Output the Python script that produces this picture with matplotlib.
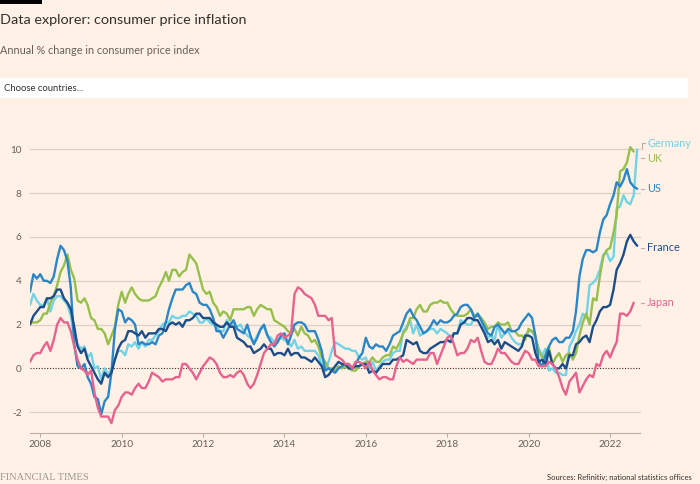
import numpy as np
import pandas as pd
import matplotlib
matplotlib.use('Agg')
import matplotlib.pyplot as plt
import matplotlib.dates as mdates
from matplotlib.patches import Rectangle
from matplotlib.transforms import blended_transform_factory

plt.rcParams['font.family'] = ['Lato', 'DejaVu Sans']

# ------------------------------------------------------------------------- #
# Annual % change in CPI, monthly, from Oct 2007
us = [3.5, 4.3, 4.1,
      4.3, 4.0, 4.0, 3.9, 4.2, 5.0, 5.6, 5.4, 4.9, 3.7, 1.1, 0.1,
      0.0, 0.2, -0.4, -0.7, -1.3, -1.4, -2.1, -1.5, -1.3, -0.2, 1.8, 2.7,
      2.6, 2.1, 2.3, 2.2, 2.0, 1.1, 1.2, 1.1, 1.1, 1.2, 1.1, 1.5,
      1.6, 2.1, 2.7, 3.2, 3.6, 3.6, 3.6, 3.8, 3.9, 3.5, 3.4, 3.0,
      2.9, 2.9, 2.7, 2.3, 1.7, 1.7, 1.4, 1.7, 2.0, 2.2, 1.8, 1.7,
      1.6, 2.0, 1.5, 1.1, 1.4, 1.8, 2.0, 1.5, 1.2, 1.0, 1.2, 1.5,
      1.6, 1.1, 1.5, 2.0, 2.1, 2.1, 2.0, 1.7, 1.7, 1.7, 1.3, 0.8,
      -0.1, 0.0, -0.1, -0.2, 0.0, 0.1, 0.2, 0.2, 0.0, 0.2, 0.5, 0.7,
      1.4, 1.0, 0.9, 1.1, 1.0, 1.0, 0.8, 1.1, 1.5, 1.6, 1.7, 2.1,
      2.5, 2.7, 2.4, 2.2, 1.9, 1.6, 1.7, 1.9, 2.2, 2.0, 2.2, 2.1,
      2.1, 2.2, 2.4, 2.5, 2.8, 2.9, 2.9, 2.7, 2.3, 2.5, 2.2, 1.9,
      1.6, 1.5, 1.9, 2.0, 1.8, 1.6, 1.8, 1.7, 1.7, 1.8, 2.1, 2.3,
      2.5, 2.3, 1.5, 0.3, 0.1, 0.6, 1.0, 1.3, 1.4, 1.2, 1.2, 1.4,
      1.4, 1.7, 2.6, 4.2, 5.0, 5.4, 5.4, 5.3, 5.4, 6.2, 6.8, 7.0,
      7.5, 7.9, 8.5, 8.3, 8.6, 9.1, 8.5, 8.3, 8.2]

uk = [2.1, 2.1, 2.1,
      2.2, 2.5, 2.5, 3.0, 3.3, 3.8, 4.4, 4.7, 5.2, 4.5, 4.1, 3.1,
      3.0, 3.2, 2.9, 2.3, 2.2, 1.8, 1.8, 1.6, 1.1, 1.5, 1.9, 2.9,
      3.5, 3.0, 3.4, 3.7, 3.4, 3.2, 3.1, 3.1, 3.1, 3.2, 3.3, 3.7,
      4.0, 4.4, 4.0, 4.5, 4.5, 4.2, 4.4, 4.5, 5.2, 5.0, 4.8, 4.2,
      3.6, 3.4, 3.5, 3.0, 2.8, 2.4, 2.6, 2.5, 2.2, 2.7, 2.7, 2.7,
      2.7, 2.8, 2.8, 2.4, 2.7, 2.9, 2.8, 2.7, 2.7, 2.2, 2.1, 2.0,
      1.9, 1.7, 1.6, 1.8, 1.5, 1.9, 1.6, 1.5, 1.2, 1.3, 1.0, 0.5,
      0.3, 0.0, 0.0, -0.1, 0.1, 0.0, 0.1, 0.0, -0.1, -0.1, 0.1, 0.2,
      0.3, 0.3, 0.5, 0.3, 0.3, 0.5, 0.6, 0.6, 1.0, 0.9, 1.2, 1.6,
      1.8, 2.3, 2.3, 2.7, 2.9, 2.6, 2.6, 2.9, 3.0, 3.0, 3.1, 3.0,
      3.0, 2.7, 2.5, 2.4, 2.4, 2.4, 2.5, 2.7, 2.4, 2.4, 2.3, 2.1,
      1.8, 1.9, 1.9, 2.1, 2.0, 2.0, 2.1, 1.7, 1.7, 1.5, 1.5, 1.3,
      1.8, 1.7, 1.5, 0.8, 0.5, 0.6, 1.0, 0.2, 0.5, 0.7, 0.3, 0.6,
      0.7, 0.4, 0.7, 1.5, 2.1, 2.5, 2.0, 3.2, 3.1, 4.2, 5.1, 5.4,
      5.5, 6.2, 7.0, 9.0, 9.1, 9.4, 10.1, 9.9]

germany = [2.9, 3.4, 3.1,
           2.9, 2.9, 3.2, 2.6, 3.1, 3.3, 3.3, 3.1, 2.9, 2.4, 1.4, 1.1,
           0.9, 1.0, 0.5, 0.7, 0.0, 0.1, -0.5, 0.0, -0.3, 0.0, 0.4, 0.8,
           0.8, 0.6, 1.1, 1.0, 1.2, 0.9, 1.2, 1.0, 1.3, 1.3, 1.5, 1.7,
           2.0, 2.1, 2.1, 2.4, 2.3, 2.3, 2.4, 2.4, 2.6, 2.5, 2.4, 2.1,
           2.1, 2.3, 2.1, 2.0, 1.9, 1.7, 1.7, 2.2, 2.0, 2.0, 1.9, 2.0,
           1.7, 1.5, 1.4, 1.2, 1.5, 1.8, 1.9, 1.5, 1.4, 1.2, 1.3, 1.4,
           1.3, 1.2, 1.0, 1.3, 0.9, 1.0, 0.8, 0.8, 0.8, 0.8, 0.6, 0.2,
           -0.1, 0.3, 0.8, 1.2, 1.1, 1.0, 0.9, 0.9, 0.8, 0.8, 0.5, 0.4,
           0.5, 0.0, 0.3, -0.1, 0.1, 0.3, 0.4, 0.4, 0.7, 0.8, 0.8, 1.7,
           1.9, 2.2, 1.6, 2.0, 1.5, 1.6, 1.7, 1.8, 1.8, 1.6, 1.8, 1.7,
           1.6, 1.4, 1.6, 1.6, 2.2, 2.1, 2.0, 2.0, 2.3, 2.5, 2.3, 1.7,
           1.4, 1.5, 1.3, 2.0, 1.4, 1.6, 1.7, 1.4, 1.2, 1.1, 1.1, 1.5,
           1.7, 1.7, 1.4, 0.9, 0.6, 0.9, -0.1, 0.0, -0.2, -0.2, -0.3, -0.3,
           1.0, 1.3, 1.7, 2.0, 2.5, 2.3, 3.8, 3.9, 4.1, 4.5, 5.2, 5.3,
           4.9, 5.1, 7.3, 7.4, 7.9, 7.6, 7.5, 7.9, 10.0]

france = [2.0, 2.4, 2.6,
          2.8, 2.8, 3.2, 3.2, 3.3, 3.6, 3.6, 3.2, 3.0, 2.7, 1.9, 1.0,
          0.7, 0.9, 0.4, 0.1, -0.2, -0.5, -0.7, -0.2, -0.4, -0.2, 0.4, 0.9,
          1.2, 1.3, 1.7, 1.7, 1.6, 1.5, 1.7, 1.4, 1.6, 1.6, 1.6, 1.8,
          1.8, 1.7, 2.0, 2.1, 2.0, 2.1, 1.9, 2.2, 2.2, 2.3, 2.5, 2.5,
          2.3, 2.3, 2.3, 2.1, 2.0, 1.9, 1.9, 2.1, 1.9, 1.9, 1.4, 1.3,
          1.2, 1.0, 1.0, 0.7, 0.8, 0.9, 1.1, 0.9, 0.9, 0.6, 0.7, 0.7,
          0.6, 0.9, 0.6, 0.7, 0.7, 0.5, 0.5, 0.4, 0.3, 0.5, 0.3, 0.1,
          -0.4, -0.3, -0.1, 0.1, 0.3, 0.2, 0.2, 0.0, 0.0, 0.1, 0.1, 0.2,
          0.2, -0.2, -0.1, -0.2, 0.0, 0.2, 0.2, 0.2, 0.4, 0.4, 0.5, 0.6,
          1.3, 1.2, 1.1, 1.2, 0.8, 0.7, 0.7, 0.9, 1.0, 1.1, 1.2, 1.2,
          1.3, 1.2, 1.6, 1.6, 2.0, 2.1, 2.3, 2.3, 2.2, 2.2, 1.9, 1.6,
          1.2, 1.3, 1.1, 1.3, 0.9, 1.2, 1.1, 1.0, 0.9, 0.8, 1.0, 1.5,
          1.5, 1.4, 0.7, 0.3, 0.4, 0.2, 0.8, 0.2, 0.0, 0.0, 0.2, 0.0,
          0.6, 0.6, 1.1, 1.2, 1.4, 1.5, 1.2, 1.9, 2.2, 2.6, 2.8, 2.8,
          2.9, 3.6, 4.5, 4.8, 5.2, 5.8, 6.1, 5.8, 5.6]

japan = [0.3, 0.6, 0.7,
         0.7, 1.0, 1.2, 0.8, 1.3, 2.0, 2.3, 2.1, 2.1, 1.7, 1.0, 0.4,
         0.0, -0.1, -0.3, -0.1, -1.1, -1.8, -2.2, -2.2, -2.2, -2.5, -1.9, -1.7,
         -1.3, -1.1, -1.1, -1.2, -0.9, -0.7, -0.9, -0.9, -0.6, -0.2, -0.3, -0.4,
         -0.6, -0.5, -0.5, -0.5, -0.4, -0.4, 0.2, 0.2, 0.0, -0.2, -0.5, -0.2,
         0.1, 0.3, 0.5, 0.4, 0.2, -0.2, -0.4, -0.4, -0.3, -0.4, -0.2, -0.1,
         -0.3, -0.7, -0.9, -0.7, -0.3, 0.2, 0.7, 0.9, 1.1, 1.1, 1.5, 1.6,
         1.4, 1.5, 1.6, 3.4, 3.7, 3.6, 3.4, 3.3, 3.2, 2.9, 2.4, 2.4,
         2.4, 2.2, 2.3, 0.6, 0.5, 0.4, 0.2, 0.2, 0.0, 0.3, 0.3, 0.2,
         0.0, 0.3, -0.1, -0.3, -0.5, -0.4, -0.4, -0.5, -0.5, 0.1, 0.5, 0.3,
         0.4, 0.3, 0.2, 0.4, 0.4, 0.4, 0.4, 0.7, 0.7, 0.2, 0.6, 1.0,
         1.4, 1.5, 1.1, 0.6, 0.7, 0.7, 0.9, 1.3, 1.2, 1.4, 0.8, 0.3,
         0.2, 0.2, 0.5, 0.9, 0.7, 0.7, 0.5, 0.3, 0.2, 0.2, 0.5, 0.8,
         0.7, 0.4, 0.4, 0.1, 0.1, 0.1, 0.3, 0.2, 0.0, -0.4, -0.9, -1.2,
         -0.6, -0.4, -0.2, -1.1, -0.8, -0.5, -0.3, -0.4, 0.2, 0.1, 0.6, 0.8,
         0.5, 0.9, 1.2, 2.5, 2.5, 2.4, 2.6, 3.0]

countries = ['Germany', 'UK', 'US', 'France', 'Japan']
series = [germany, uk, us, france, japan]
colours = ['#72d2e6', '#96bf4b', '#2b86c7', '#1c4d89', '#e6638f']
label_y = [10.25, 9.6, 8.2, 5.5, 3.0]   # where the end labels sit

y_ticks = [-2, 0, 2, 4, 6, 8, 10]
y_ticklabels = ['-2', '0', '2', '4', '6', '8', '10']

dates = pd.date_range('2007-10-01', periods=len(us), freq='MS')

# ------------------------------------------------------------------------- #
W, H = 700, 484
bg = '#fff1e5'
txt = '#33302e'
grey = '#66605c'

fig = plt.figure(figsize=(W / 100, H / 100), dpi=100, facecolor=bg)

def fx(px):
    return px / W

def fy(py):
    return 1 - py / H

# header
fig.patches.append(Rectangle((0, fy(3.5)), fx(42), 3.5 / H, transform=fig.transFigure,
                             facecolor='black', edgecolor='none'))
fig.text(fx(0), fy(20), 'Data explorer: consumer price inflation', fontsize=10.4,
         color=txt, va='center', ha='left')
fig.text(fx(0), fy(50), 'Annual % change in consumer price index', fontsize=7.8,
         color=grey, va='center', ha='left')
fig.patches.append(Rectangle((0, fy(98)), fx(688), 20 / H, transform=fig.transFigure,
                             facecolor='white', edgecolor='none'))
fig.text(fx(4), fy(88), 'Choose countries...', fontsize=6.8, color=txt,
         va='center', ha='left')

# axes
ymin, ymax = -2.95, 10.6
ax = fig.add_axes([fx(30), fy(433), fx(610.5), (ymax - ymin) * 21.9 / H])
ax.set_facecolor(bg)
ax.set_xlim(pd.Timestamp('2007-10-01'), pd.Timestamp('2022-10-01'))
ax.set_ylim(ymin, ymax)

for v in y_ticks:
    if v != 0:
        ax.axhline(v, color='#dcd1c7', lw=0.9, zorder=1)
ax.axhline(0, color='#33302e', lw=0.8, ls=(0, (1, 1.5)), zorder=2)

for name, vals, c in zip(countries, series, colours):
    ax.plot(dates[:len(vals)], vals, color=c, lw=1.7, solid_joinstyle='round',
            solid_capstyle='round', zorder=3)

ax.set_yticks(y_ticks)
ax.set_yticklabels(y_ticklabels)
ax.xaxis.set_major_locator(mdates.YearLocator(2))
ax.xaxis.set_major_formatter(mdates.DateFormatter('%Y'))
ax.tick_params(axis='y', length=0, pad=6, labelsize=7.2, labelcolor=grey)
ax.tick_params(axis='x', length=3, width=0.8, color='#b8aea6', pad=2,
               labelsize=7.2, labelcolor=grey)
for s in ['top', 'right', 'left']:
    ax.spines[s].set_visible(False)
ax.spines['bottom'].set_color('#b8aea6')
ax.spines['bottom'].set_linewidth(0.8)

# end labels
tr = blended_transform_factory(ax.transAxes, ax.transData)
def afx(px):
    return (px - 30) / 610.5

for name, ly, c in zip(countries, label_y, colours):
    ax.text(afx(647), ly, name, transform=tr, color=c, fontsize=7.8,
            va='center', ha='left', clip_on=False)
    if name != 'Germany':
        ax.plot([afx(641), afx(644)], [ly, ly], transform=tr, color='#b8aea6',
                lw=0.8, clip_on=False)
# bracket for Germany
ax.plot([afx(644.5), afx(642), afx(642)], [10.3, 10.3, 10.0], transform=tr,
        color='#b8aea6', lw=0.8, clip_on=False)

# footer
fig.text(fx(0), fy(477), 'FINANCIAL TIMES', fontsize=7.5, color='#9e9893',
         family='Liberation Serif', va='center', ha='left')
fig.text(fx(692), fy(477), 'Sources: Refinitiv; national statistics offices',
         fontsize=5.5, color=txt, va='center', ha='right')

fig.savefig('out.png', dpi=100, facecolor=bg)
